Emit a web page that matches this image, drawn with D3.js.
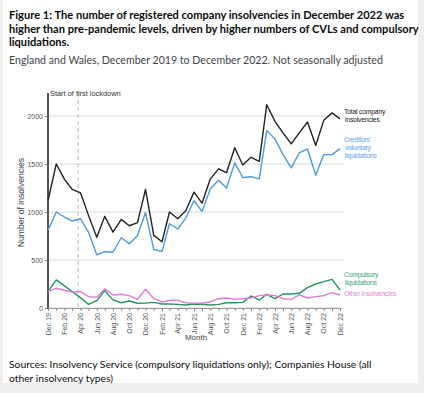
<!DOCTYPE html>
<html>
<head>
<meta charset="utf-8">
<script src="https://cdn.jsdelivr.net/npm/d3@7"></script>
<style>
  body { margin: 0; background: #efefef; }
  svg { display: block; }
  .title { font-family: Lato, "Noto Sans", sans-serif; font-weight: 700; font-size: 11.1px; fill: #0b0c0c; }
  .sub { font-family: Lato, "Noto Sans", sans-serif; font-size: 10.6px; fill: #3f4548; }
  .src { font-family: Lato, "Noto Sans", sans-serif; font-size: 10.3px; fill: #0b0c0c; }
  .ax text { font-family: "Liberation Sans", Arial, sans-serif; font-size: 7px; fill: #555; }
  .lbl { font-family: "Liberation Sans", Arial, sans-serif; font-size: 8px; fill: #444; }
  .leg { font-family: "Liberation Sans", Arial, sans-serif; font-size: 6.8px; letter-spacing: -0.2px; }
</style>
</head>
<body>
<div id="chart"></div>
<script>
// ── Data (Dec 2019 to Dec 2022, monthly) ─────────────────────────
const months = d3.timeMonth.range(new Date(2019, 11, 1), new Date(2023, 0, 1));

const totalInsolvencies = [1120, 1500, 1340, 1235, 1200, 965, 738, 955, 790, 923, 857, 889, 1235,
    757, 690, 1000, 930, 1013, 1207, 1092, 1343, 1450, 1410, 1670, 1490,
    1570, 1528, 2118, 1945, 1824, 1710, 1824, 1938, 1694, 1955, 2033, 1970];

const cvls = [808, 1000, 948, 906, 930, 790, 554, 588, 581, 732, 669, 756, 994,
    610, 590, 878, 823, 937, 1117, 1006, 1240, 1330, 1250, 1512, 1360,
    1368, 1345, 1848, 1760, 1598, 1460, 1615, 1657, 1383, 1598, 1598, 1660];

const compulsory = [170, 293, 230, 170, 108, 38, 76, 181, 84, 55, 73, 49, 51,
    59, 42, 42, 38, 31, 42, 38, 31, 38, 55, 55, 59,
    125, 84, 143, 97, 146, 146, 153, 212, 250, 274, 299, 188];

const otherInsolvencies = [170, 206, 185, 167, 170, 118, 112, 199, 136, 143, 129, 91, 196,
    97, 63, 80, 80, 55, 49, 49, 63, 97, 104, 90, 97,
    104, 129, 136, 129, 97, 90, 136, 104, 118, 128, 160, 135];

const yTicks = [0, 500, 1000, 1500, 2000];
const lockdownDate = new Date(2020, 2, 23);

const series = [
    { name: ["Total company", "insolvencies"], values: totalInsolvencies, color: "#222222", labelColor: "#222222", labelY: 114 },
    { name: ["Creditors'", "voluntary", "liquidations"], values: cvls, color: "#4a99e2", labelColor: "#5aa2e8", labelY: 142 },
    { name: ["Compulsory", "liquidations"], values: compulsory, color: "#23995e", labelColor: "#3aa56e", labelY: 277 },
    { name: ["Other insolvencies"], values: otherInsolvencies, color: "#e07ad8", labelColor: "#df86da", labelY: 296 }
];

// ── Layout ───────────────────────────────────────────────────────
const width = 424, height = 393;
const plotLeft = 48, plotRight = 340, gridRight = 344;
const plotTop = 93, plotBottom = 308;

const svg = d3.select("#chart")
    .append("svg")
    .attr("width", width)
    .attr("height", height);

svg.append("rect")
    .attr("x", 3).attr("y", 0)
    .attr("width", 415).attr("height", 383)
    .attr("fill", "#ffffff");

// Titles
const titleLines = [
    "Figure 1: The number of registered company insolvencies in December 2022 was",
    "higher than pre-pandemic levels, driven by higher numbers of CVLs and compulsory",
    "liquidations."
];
svg.selectAll(".title")
    .data(titleLines)
    .join("text")
    .attr("class", "title")
    .attr("x", 9)
    .attr("y", (d, i) => 19 + i * 13.5)
    .text(d => d);

svg.append("text")
    .attr("class", "sub")
    .attr("x", 9).attr("y", 64)
    .text("England and Wales, December 2019 to December 2022. Not seasonally adjusted");

// Scales
const xScale = d3.scaleTime()
    .domain([months[0], months[months.length - 1]])
    .range([plotLeft, plotRight]);

const yScale = d3.scaleLinear()
    .domain([0, 2240])
    .range([plotBottom, plotTop]);

// Gridlines
svg.append("g")
    .selectAll("line")
    .data(yTicks)
    .join("line")
    .attr("x1", plotLeft).attr("x2", gridRight)
    .attr("y1", d => yScale(d)).attr("y2", d => yScale(d))
    .attr("stroke", "#d9d9d9")
    .attr("stroke-width", 1);

// Lockdown marker
svg.append("line")
    .attr("x1", xScale(lockdownDate)).attr("x2", xScale(lockdownDate))
    .attr("y1", plotTop).attr("y2", plotBottom)
    .attr("stroke", "#bbbbbb")
    .attr("stroke-dasharray", "4,3");

svg.append("text")
    .attr("class", "lbl")
    .attr("x", plotLeft + 2).attr("y", plotTop + 3)
    .style("font-size", "7.4px")
    .style("fill", "#333")
    .text("Start of first lockdown");

// Left axis
const leftAxis = d3.axisLeft(yScale)
    .tickValues(yTicks)
    .tickFormat(d3.format("d"))
    .tickSize(3)
    .tickPadding(2);
const yAxisG = svg.append("g")
    .attr("class", "ax")
    .attr("transform", `translate(${plotLeft},0)`)
    .call(leftAxis);
yAxisG.select(".domain").remove();
yAxisG.selectAll(".tick line").attr("stroke", "#888");

svg.append("line")
    .attr("x1", plotLeft).attr("x2", plotLeft)
    .attr("y1", plotTop).attr("y2", plotBottom + 1)
    .attr("stroke", "#555")
    .attr("stroke-width", 2);

svg.append("text")
    .attr("class", "lbl")
    .attr("transform", `translate(24,${(plotTop + plotBottom) / 2 + 2}) rotate(-90)`)
    .attr("text-anchor", "middle")
    .style("font-size", "8.6px")
    .text("Number of insolvencies");

// Bottom axis
const bottomAxis = d3.axisBottom(xScale)
    .tickValues(months)
    .tickSize(3)
    .tickPadding(3)
    .tickFormat((d, i) => i % 2 === 0 ? d3.timeFormat("%b %y")(d) : "");
const xAxisG = svg.append("g")
    .attr("class", "ax")
    .attr("transform", `translate(0,${plotBottom})`)
    .call(bottomAxis);
xAxisG.select(".domain").attr("stroke", "#999");
xAxisG.selectAll(".tick line").attr("stroke", "#888");
xAxisG.selectAll(".tick text")
    .attr("text-anchor", "end")
    .attr("transform", "rotate(-90)")
    .attr("x", -5)
    .attr("y", 0)
    .attr("dy", "0.32em");

svg.append("text")
    .attr("class", "lbl")
    .attr("x", 196).attr("y", 340)
    .attr("text-anchor", "middle")
    .text("Month");

// Lines
const line = d3.line()
    .x((d, i) => xScale(months[i]))
    .y(d => yScale(d));

svg.append("g")
    .selectAll("path")
    .data(series)
    .join("path")
    .attr("d", d => line(d.values))
    .attr("fill", "none")
    .attr("stroke", d => d.color)
    .attr("stroke-width", 1.4)
    .attr("stroke-linejoin", "round");

// Direct labels, one text per line
series.forEach(s => {
    svg.append("g")
        .selectAll("text")
        .data(s.name)
        .join("text")
        .attr("class", "leg")
        .attr("x", (d, i) => gridRight + (i > 0 ? 1 : 0))
        .attr("y", (d, i) => s.labelY + i * 7.8)
        .attr("fill", s.labelColor)
        .text(d => d);
});

// Source note
const sourceLines = [
    "Sources: Insolvency Service (compulsory liquidations only); Companies House (all",
    "other insolvency types)"
];
svg.selectAll(".src")
    .data(sourceLines)
    .join("text")
    .attr("class", "src")
    .attr("x", 9)
    .attr("y", (d, i) => 368 + i * 14)
    .text(d => d);
</script>
</body>
</html>
